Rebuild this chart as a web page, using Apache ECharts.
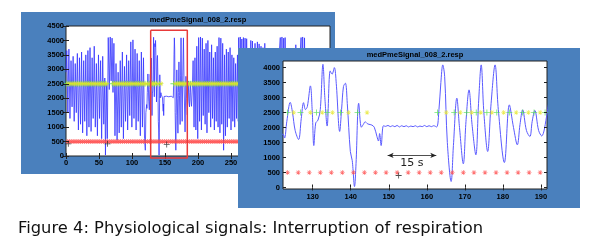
<!DOCTYPE html>
<html><head><meta charset="utf-8">
<script src="https://cdn.jsdelivr.net/npm/echarts@6/dist/echarts.min.js"></script>
<style>html,body{margin:0;padding:0;background:#fff}#c{width:606px;height:252px}</style>
</head><body><div id="c"></div>
<script>
// ---------- data ----------
const chartTitle = 'medPmeSignal_008_2.resp';
const caption = 'Figure 4: Physiological signals: Interruption of respiration';

// respiration signal [time s, value]
const respSignal = [
[0,2900],[1.2,3650],[2.8,1500],[4.4,3700],[6.0,1300],[7.6,3300],[9.2,1700],[10.8,3450],[12.4,1200],[14.0,3200],
[15.6,1500],[17.2,3550],[18.8,900],[20.4,3400],[22.0,1100],[23.6,3600],[25.2,800],[26.8,3300],[28.4,1200],[30.0,3500],
[31.6,700],[33.2,3650],[34.8,1000],[36.4,3750],[38.0,850],[39.6,3400],[41.2,1300],[42.8,3800],[44.4,1000],[46.0,3200],
[47.6,700],[49.2,3500],[50.8,1300],[52.4,3300],[54.0,600],[55.6,3450],[57.2,1100],[58.8,2700],[59.8,30],[61.2,2500],
[62.6,600],[64.0,4100],[65.6,2300],[67.0,4120],[68.4,2600],[69.8,4080],[71.2,2200],[72.6,3900],[74.2,700],[75.8,3200],
[77.4,550],[79.0,2900],[80.6,800],[82.2,3300],[83.8,1000],[85.4,3600],[87.0,600],[88.6,3100],[90.2,1200],[91.8,3500],
[93.4,900],[95.0,3300],[96.6,1400],[98.2,3950],[99.8,1000],[101.4,4020],[103.0,1300],[104.6,3700],[106.2,900],[107.8,3550],
[109.4,1200],[111.0,3300],[112.6,700],[114.2,3600],[115.8,1000],[117.4,3400],[119.0,600],[120.2,200],[121.0,1500],
[122.2,1780],[122.6,1650],[123.2,2200],[124.1,2840],[124.7,2500],[125.4,1900],[126.3,1600],[127.0,2300],[127.6,2830],
[128.1,2600],[128.6,2700],[129.4,3390],[129.9,2500],[130.3,1400],[130.8,2150],[131.4,2250],[132.0,2600],[132.7,4110],
[133.2,3000],[133.8,2050],[134.6,3890],[135.1,3780],[135.7,4000],[136.2,3470],[137.1,1870],[137.6,2600],[138.1,3370],
[138.6,3480],[139.1,2800],[139.9,1200],[140.4,900],[141.0,30],[141.4,800],[142.1,2810],[142.8,2010],[143.3,2100],
[143.8,2190],[144.5,2120],[145.1,2100],[145.6,2080],[146.2,2010],[146.9,1700],[147.3,1550],[147.6,1800],[148.0,1400],
[148.6,2060],[149.2,2040],[149.8,2070],[150.4,2030],[151.0,2060],[151.6,2030],[152.2,2070],[152.8,2020],[153.4,2060],
[154.0,2030],[154.6,2060],[155.2,2020],[155.8,2050],[156.4,2030],[157.0,2060],[157.6,2020],[158.2,2050],[158.8,2030],
[159.4,2070],[160.0,2030],[160.6,2060],[161.2,2030],[161.8,2060],[162.6,2020],[163.2,2600],[163.7,3500],[164.2,4090],
[164.7,3700],[165.4,1500],[166.4,200],[167.0,1400],[167.9,2980],[168.6,2000],[169.6,790],[170.3,2200],[171.1,3257],
[171.9,2100],[172.9,1090],[173.6,2800],[174.3,4090],[175.0,2500],[176.0,1200],[176.9,2800],[177.95,4090],[178.8,2600],
[180.4,833],[181.7,2757],[182.8,2000],[183.8,1423],[184.5,2100],[185.2,2590],[186.2,1900],[187.1,1700],[187.7,2200],
[188.4,2570],[189.4,1900],[190.2,1720],[191.6,2450],
[192.6,3300],[194.0,1000],[195.4,3400],[196.8,900],[198.2,3800],[199.6,600],[201.0,4100],[202.4,1200],[203.8,4120],
[205.2,900],[206.6,4080],[208.0,1400],[209.4,3700],[210.8,1100],[212.2,3900],[213.6,800],[215.0,4000],[216.4,1500],
[217.8,3600],[219.2,1000],[220.6,3850],[222.0,1300],[223.4,3400],[224.8,900],[226.2,3600],[227.6,1200],[229.0,3800],
[230.4,1000],[231.8,4100],[233.2,800],[234.6,4080],[236.0,1100],[237.4,3900],[238.8,200],[240.2,3500],[241.6,700],
[243.0,3700],[244.4,1000],[245.8,3600],[247.2,1300],[248.6,3750],[250.0,900],[251.4,3500],[252.8,1200],[254.2,3400],
[255.6,1000],[257.0,3200],[258.4,1300],[259.8,3500],[261.0,1200],[261.6,4100],[263.0,1300],[264.0,4120],[265.4,1000],
[266.4,4050],[267.8,1200],[268.8,4100],[270.2,1100],[271.3,4080],[272.6,1400],[273.7,4060],[275.2,1000],[276.6,3300],
[278.2,1200],[280.0,4000],[281.2,1500],[282.5,3980],[284.0,1100],[286.4,3900],[288.0,1300],[290.0,3950],[291.4,1000],
[292.6,3880],[294.0,1200],[295.5,3800],[297.0,1100],[298.4,3750],[299.8,1300],[301.2,3900],[302.6,1000],[304.2,3300],
[305.8,1300],[307.4,3400],[309.0,1000],[310.6,3200],[312.2,1200],[313.8,3500],[315.4,900],[317.0,3300],[318.6,1200],
[320.2,3400],[321.8,1000],[323.2,3600],[324.7,4100],[326.0,1300],[327.2,4120],[328.6,1100],[329.8,4080],[331.2,1200],
[332.0,4100],[333.6,1000],[335.2,3300],[336.8,1200],[338.4,3500],[340.0,900],[341.6,3200],[343.2,1300],[344.8,3400],
[346.4,1100],[348.2,3850],[349.8,1200],[351.4,3300],[353.0,1000],[354.6,3500],[356.2,4100],[357.6,1300],[358.6,4120],
[360.0,1100],[361.4,4090],[363.0,1200],[364.6,3400],[366.2,1000],[367.8,3300],[369.4,1200],[371.0,3500],[372.6,900],
[374.2,3200],[375.8,1300],[377.4,3400],[379.0,1100],[380.6,3300],[382.2,1200],[383.8,3500],[385.4,1000],[387.0,3200],
[388.6,1200],[390.2,3400],[391.8,1000],[393.4,3300],[395.0,1200],[396.6,3500],[398.2,1100],[399.8,3200]
];

// breath-detection markers at the 2500 level
const markLevel = 2500;
const greenT = [1.0,4.2,7.6,10.9,14.1,17.5,20.8,24.0,27.4,30.6,33.9,37.3,40.5,43.8,47.1,50.4,53.6,57.0,60.3,
 70.2,73.6,76.8,80.1,83.5,86.7,90.0,93.4,96.6,99.9,103.3,106.5,109.8,113.2,116.4,119.7,
 123.4,126.8,131.0,133.8,137.3,141.8,
 162.8,167.2,170.5,173.0,175.8,178.4,181.7,185.2,188.2,191.1,
 194.5,197.9,201.1,204.4,207.8,211.0,214.3,217.7,220.9,224.2,227.6,230.8,234.1,237.5,240.7,244.0,247.4,250.6,253.9,257.3,260.5];
const yellowT = [2.6,5.9,9.3,12.5,15.8,19.2,22.4,25.7,29.1,32.3,35.5,38.9,42.2,45.4,48.8,52.0,55.3,58.7,61.8,
 71.8,75.2,78.4,81.7,85.1,88.3,91.6,95.0,98.2,101.5,104.9,108.1,111.4,114.8,118.0,121.3,
 125.0,129.4,132.5,135.2,139.4,144.3,
 165.1,168.8,171.8,174.2,177.1,180.2,183.5,186.7,189.8,
 192.9,196.2,199.6,202.8,206.1,209.5,212.7,216.0,219.4,222.6,225.9,229.3,232.5,235.8,239.2,242.4,245.7,249.1,252.3,255.6,258.9,262.2];

// red threshold stars at 500
const starLevel = 500;
const starT = [2.1,5.0,7.9,10.8,13.6,16.5,19.4,22.3,25.2,28.1,31.0,33.9,36.7,39.6,42.5,45.4,48.3,51.2,54.1,57.0,
 59.8,62.7,65.6,68.5,71.4,74.3,77.2,80.0,82.9,85.8,88.7,91.6,94.5,97.4,100.3,103.1,106.0,108.9,111.8,114.7,
 117.6,120.5,123.4,126.2,129.1,132.0,134.9,137.8,140.7,143.6,146.5,149.3,152.2,155.1,158.0,160.9,163.8,166.7,
 169.6,172.4,175.3,178.2,181.1,184.0,186.9,189.8,192.6,195.5,198.4,201.3,204.2,207.1,210.0,212.8,215.7,218.6,
 221.5,224.4,227.3,230.2,233.0,235.9,238.8,241.7,244.6,247.5,250.4,253.3,256.1,259.0,261.9,264.8];

// black event crosses
const eventPts = [[3.5,420],[63.0,420],[152.6,400]];

// zoom window drawn on the overview
const zoomBoxT = [128.3,183.8,183.8,128.3,128.3];
const zoomBoxV = [4350,4350,-70,-70,4350];

// 15 s pause annotation
const pauseStart = 149.7, pauseEnd = 162.5, pauseLevel = 1070, pauseLabel = '15 s';

// axis ticks
const frontXTicks = [130,140,150,160,170,180,190];
const frontYTicks = [0,500,1000,1500,2000,2500,3000,3500,4000];

// ---------- chart ----------
const panelBlue = '#4a80bd';
const plusSym = 'path://M-0.55,-4 L0.55,-4 L0.55,4 L-0.55,4 Z M-4,-0.55 L4,-0.55 L4,0.55 L-4,0.55 Z';
const starSym = 'path://M-0.6,-5 L0.6,-5 L0.6,5 L-0.6,5 Z M-5,-0.6 L5,-0.6 L5,0.6 L-5,0.6 Z M-3.9,-3.1 L-3.1,-3.9 L3.9,3.1 L3.1,3.9 Z M3.1,-3.9 L3.9,-3.1 L-3.1,3.9 L-3.9,3.1 Z';
const plain = v => String(v);
const lbl = {fontFamily:'Liberation Sans', fontWeight:'bold', fontSize:7.5, color:'#000', formatter:plain};
const tick = {inside:true, length:3, lineStyle:{color:'#222', width:1}};

const chart = echarts.init(document.getElementById('c'), null, {renderer:'canvas'});

function markerSeries(ax, zl) {
  return [
    {type:'scatter', xAxisIndex:ax, yAxisIndex:ax, zlevel:zl, z:4, symbol:plusSym, symbolSize:6,
     itemStyle:{color:'#4ee04e'}, data: greenT.map(t=>[t,markLevel])},
    {type:'scatter', xAxisIndex:ax, yAxisIndex:ax, zlevel:zl, z:4, symbol:starSym, symbolSize:5,
     itemStyle:{color:'#e6e62a'}, data: yellowT.map(t=>[t,markLevel])},
    {type:'scatter', xAxisIndex:ax, yAxisIndex:ax, zlevel:zl, z:4, symbol:starSym, symbolSize:5,
     itemStyle:{color:'#ff4a4a'}, data: starT.map(t=>[t,starLevel])},
    {type:'scatter', xAxisIndex:ax, yAxisIndex:ax, zlevel:zl, z:4, symbol:plusSym, symbolSize:6,
     itemStyle:{color:'#222'}, data: eventPts}
  ];
}

const option = {
  animation:false,
  backgroundColor:'#fff',
  graphic:{elements:[
    {type:'rect', zlevel:0, z:0, shape:{x:21,y:12,width:314,height:162}, style:{fill:panelBlue}},
    {type:'text', zlevel:0, z:10, x:198, y:20, style:{text:chartTitle, font:'bold 7.5px "Liberation Sans"', fill:'#000', align:'center', verticalAlign:'middle'}},
    {type:'rect', zlevel:1, z:0, shape:{x:238,y:48,width:342,height:160}, style:{fill:panelBlue}},
    {type:'text', zlevel:1, z:10, x:415, y:55, style:{text:chartTitle, font:'bold 7.5px "Liberation Sans"', fill:'#000', align:'center', verticalAlign:'middle'}},
    {type:'text', zlevel:1, z:10, x:18, y:229, scaleX:1.02, style:{text:caption, font:'16px "DejaVu Sans"', fill:'#111', align:'left', verticalAlign:'middle'}}
  ]},
  grid:[
    {left:66, top:26, width:264, height:130, show:true, backgroundColor:'#fff', borderColor:'#222', borderWidth:1, zlevel:0, z:1},
    {left:283, top:61, width:264, height:128, show:true, backgroundColor:'#fff', borderColor:'#222', borderWidth:1, zlevel:1, z:1}
  ],
  xAxis:[
    {gridIndex:0, type:'value', min:0, max:400, interval:50, position:'bottom', zlevel:0, z:5,
     axisLine:{show:false}, axisTick:tick, splitLine:{show:false}, axisLabel:Object.assign({margin:3}, lbl)},
    {gridIndex:1, type:'value', min:122.2, max:191.6, position:'bottom', zlevel:1, z:5,
     axisLine:{show:false}, axisTick:Object.assign({customValues:frontXTicks}, tick), splitLine:{show:false},
     axisLabel:Object.assign({margin:4, customValues:frontXTicks}, lbl)},
    {gridIndex:0, type:'value', min:0, max:400, interval:50, position:'top', zlevel:0, z:5,
     axisLine:{show:false}, axisTick:tick, splitLine:{show:false}, axisLabel:{show:false}},
    {gridIndex:1, type:'value', min:122.2, max:191.6, position:'top', zlevel:1, z:5,
     axisLine:{show:false}, axisTick:Object.assign({customValues:frontXTicks}, tick), splitLine:{show:false}, axisLabel:{show:false}}
  ],
  yAxis:[
    {gridIndex:0, type:'value', min:0, max:4500, interval:500, position:'left', zlevel:0, z:5,
     axisLine:{show:false}, axisTick:tick, splitLine:{show:false}, axisLabel:Object.assign({margin:2}, lbl)},
    {gridIndex:1, type:'value', min:-50, max:4220, position:'left', zlevel:1, z:5,
     axisLine:{show:false}, axisTick:Object.assign({customValues:frontYTicks}, tick), splitLine:{show:false},
     axisLabel:Object.assign({margin:3, customValues:frontYTicks}, lbl)},
    {gridIndex:0, type:'value', min:0, max:4500, interval:500, position:'right', zlevel:0, z:5,
     axisLine:{show:false}, axisTick:tick, splitLine:{show:false}, axisLabel:{show:false}},
    {gridIndex:1, type:'value', min:-50, max:4220, position:'right', zlevel:1, z:5,
     axisLine:{show:false}, axisTick:Object.assign({customValues:frontYTicks}, tick), splitLine:{show:false}, axisLabel:{show:false}}
  ],
  series:[
    {type:'line', xAxisIndex:0, yAxisIndex:0, zlevel:0, z:2, data:respSignal, symbol:'none',
     lineStyle:{color:'#3535ff', width:0.8}},
    ...markerSeries(0, 0),
    {type:'line', xAxisIndex:0, yAxisIndex:0, zlevel:0, z:6, clip:false, symbol:'none',
     data: zoomBoxT.map((t,i)=>[t, zoomBoxV[i]]), lineStyle:{color:'#e83a3a', width:1.5}},
    {type:'line', xAxisIndex:1, yAxisIndex:1, zlevel:1, z:2, data:respSignal, symbol:'none', smooth:0.35,
     lineStyle:{color:'#5a5aff', width:1},
     markLine:{silent:true, animation:false, zlevel:1, z:10, symbol:['arrow','arrow'], symbolSize:[4,6],
       lineStyle:{color:'#222', width:0.8, type:'solid'},
       label:{show:true, formatter:pauseLabel, position:'insideMiddleBottom', distance:2,
              fontFamily:'DejaVu Sans', fontSize:11, color:'#222'},
       data:[[{coord:[pauseStart,pauseLevel]},{coord:[pauseEnd,pauseLevel]}]]}},
    ...markerSeries(1, 1)
  ]
};
chart.setOption(option);
</script>
</body></html>
